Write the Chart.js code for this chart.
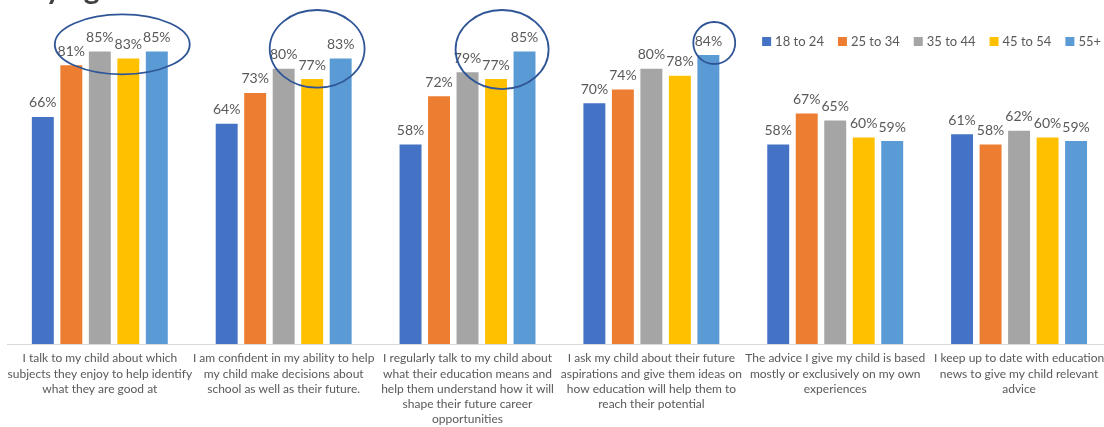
<!DOCTYPE html>
<html>
<head>
<meta charset="utf-8">
<script src="https://cdn.jsdelivr.net/npm/chart.js@4.4.1/dist/chart.umd.min.js"></script>
<style>
  html, body { margin: 0; padding: 0; background: #fff; overflow: hidden; }
  #wrap { position: relative; width: 1112px; height: 427px; }
</style>
</head>
<body>
<div id="wrap"><canvas id="grafico"></canvas></div>
<script>
// categorias (texto del eje X, ya partido en lineas)
const categorias = [
  ["I talk to my child about which", "subjects they enjoy to help identify", "what they are good at"],
  ["I am confident in my ability to help", "my child make decisions about", "school as well as their future."],
  ["I regularly talk to my child about", "what their education means and", "help them understand how it will", "shape their future career", "opportunities"],
  ["I ask my child about their future", "aspirations and give them ideas on", "how education will help them to", "reach their potential"],
  ["The advice I give my child is based", "mostly or exclusively on my own", "experiences"],
  ["I keep up to date with education", "news to give my child relevant", "advice"]
];

const gruposEdad = ["18 to 24", "25 to 34", "35 to 44", "45 to 54", "55+"];
const colores = ["#4472C4", "#ED7D31", "#A5A5A5", "#FFC000", "#5B9BD5"];

const edad18a24 = [66, 64, 58, 70, 58, 61];
const edad25a34 = [81, 73, 72, 74, 67, 58];
const edad35a44 = [85, 80, 79, 80, 65, 62];
const edad45a54 = [83, 77, 77, 78, 60, 60];
const edad55mas = [85, 83, 85, 84, 59, 59];

// circulos resaltando grupos: centro en (categoria + desplazamiento, %), radios en categorias y %
const resaltados = [
  { cat: 0, dx: 0.122, y: 87.1, rx: 0.367, ry: 8.7 },
  { cat: 1, dx: 0.182, y: 85.8, rx: 0.258, ry: 11.3 },
  { cat: 2, dx: 0.188, y: 85.6, rx: 0.253, ry: 11.5 },
  { cat: 3, dx: 0.342, y: 87.5, rx: 0.114, ry: 6.1 }
];

const FUENTE = "Lato, 'Liberation Sans', sans-serif";
const GRIS_TEXTO = "#595959";

const series = [edad18a24, edad25a34, edad35a44, edad45a54, edad55mas];

const etiquetasValor = {
  id: 'etiquetasValor',
  afterDatasetsDraw(chart) {
    const ctx = chart.ctx;
    ctx.save();
    ctx.font = "14px " + FUENTE;
    ctx.fillStyle = GRIS_TEXTO;
    ctx.textAlign = 'center';
    ctx.textBaseline = 'middle';
    chart.data.datasets.forEach((ds, i) => {
      chart.getDatasetMeta(i).data.forEach((bar, j) => {
        ctx.fillText(ds.data[j] + '%', bar.x, bar.y - 14);
      });
    });
    ctx.restore();
  }
};

const elipses = {
  id: 'elipses',
  afterDraw(chart) {
    const ctx = chart.ctx;
    const xs = chart.scales.x, ys = chart.scales.y;
    const anchoCat = xs.getPixelForValue(1) - xs.getPixelForValue(0);
    const pxPorPunto = ys.getPixelForValue(0) - ys.getPixelForValue(1);
    ctx.save();
    ctx.strokeStyle = "#2F5597";
    ctx.lineWidth = 1.8;
    resaltados.forEach(r => {
      const cx = xs.getPixelForValue(r.cat) + r.dx * anchoCat;
      const cy = ys.getPixelForValue(r.y);
      ctx.beginPath();
      ctx.ellipse(cx, cy, r.rx * anchoCat, r.ry * pxPorPunto, 0, 0, Math.PI * 2);
      ctx.stroke();
    });
    ctx.restore();
  }
};

// leyenda dibujada dentro del area del grafico, arriba a la derecha
const leyenda = {
  id: 'leyenda',
  afterDraw(chart) {
    const ctx = chart.ctx;
    ctx.save();
    ctx.font = "13px " + FUENTE;
    ctx.textBaseline = 'middle';
    ctx.fillStyle = GRIS_TEXTO;
    const anchos = gruposEdad.map(t => ctx.measureText(t).width);
    const gap = 14, cuadro = 9, sep = 4;
    let total = anchos.reduce((a, w) => a + cuadro + sep + w, 0) + gap * (gruposEdad.length - 1);
    let x = 1101 - total;
    const y = 41.5;
    gruposEdad.forEach((t, i) => {
      ctx.fillStyle = colores[i];
      ctx.fillRect(x, y - cuadro / 2, cuadro, cuadro);
      ctx.fillStyle = GRIS_TEXTO;
      ctx.fillText(t, x + cuadro + sep, y);
      x += cuadro + sep + anchos[i] + gap;
    });
    ctx.restore();
  }
};

// titulo cortado en el borde superior
const titulo = {
  id: 'titulo',
  afterDraw(chart) {
    const ctx = chart.ctx;
    ctx.save();
    ctx.font = "bold 30px " + FUENTE;
    ctx.fillStyle = "#404040";
    ctx.textBaseline = 'alphabetic';
    ctx.fillText("By age", 26, -1);
    ctx.restore();
  }
};

new Chart(document.getElementById('grafico'), {
  type: 'bar',
  data: {
    labels: categorias,
    datasets: gruposEdad.map((g, i) => ({
      label: g,
      data: series[i],
      backgroundColor: colores[i],
      categoryPercentage: 0.775,
      barPercentage: 0.77
    }))
  },
  options: {
    responsive: true,
    maintainAspectRatio: false,
    animation: false,
    layout: { padding: { left: 7, right: 1, top: 0, bottom: 0 } },
    plugins: { legend: { display: false }, tooltip: { enabled: false } },
    scales: {
      x: {
        grid: { display: false, drawTicks: false },
        border: { display: true, color: "#D9D9D9", width: 1 },
        ticks: {
          color: GRIS_TEXTO,
          font: { family: FUENTE, size: 12, lineHeight: 1.27 },
          padding: 7,
          maxRotation: 0,
          autoSkip: false
        },
        afterFit(scale) { scale.height = 83; }
      },
      y: {
        display: false,
        min: 0,
        max: 100
      }
    }
  },
  plugins: [etiquetasValor, elipses, leyenda, titulo]
});
</script>
</body>
</html>
